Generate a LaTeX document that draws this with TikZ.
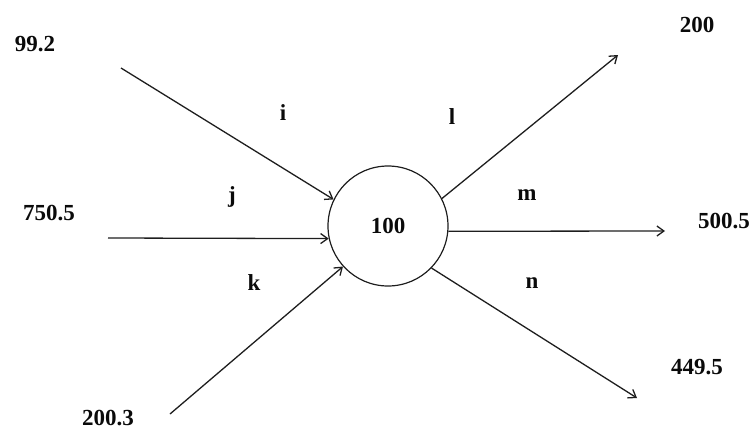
\documentclass[tikz,border=0pt]{standalone}
\usepackage{fontspec}
\setmainfont{Liberation Serif}
\usepackage{tikz}
\usetikzlibrary{arrows.meta}
\definecolor{flowline}{RGB}{30,30,30}
\definecolor{flowtext}{RGB}{10,10,10}
\tikzset{
  balance/.style={circle, draw=flowline, line width=1.2pt,
                  minimum size=120pt, inner sep=0pt,
                  font=\bfseries\fontsize{23}{25}\selectfont, text=flowtext},
  flowval/.style={inner sep=0pt, text=flowtext,
                  font=\bfseries\fontsize{23}{25}\selectfont},
  flowtag/.style={flowval},
  flow/.style={draw=flowline, line width=1.3pt,
               -{Straight Barb[length=7pt,width=10pt]}},
}
\begin{document}
\begin{tikzpicture}[x=1pt,y=-1pt]
\useasboundingbox (0,0) rectangle (756,431);
\node[balance] (c) at (388,226) {100};
% incoming streams: value, free end, anchor on the circle, stream tag
\foreach \nm/\val/\vpos/\spos/\ang/\tpos in {%
  i/99.2/{35,44}/{121,68}/154/{283,113},
  j/750.5/{49,213}/{108,238}/192/{232,197},
  k/200.3/{108,418}/{170,414}/222/{254,283}%
}{
  \node[flowval] (v\nm) at (\vpos) {\val};
  \coordinate (s\nm) at (\spos);
  \node[flowtag] (t\nm) at (\tpos) {\nm};
  \draw[flow] (s\nm) -- (c.\ang);
}
% outgoing streams
\foreach \nm/\val/\vpos/\epos/\ang/\tpos in {%
  l/200/{697,25}/{618,55}/27/{452,117},
  m/500.5/{724,221}/{665,231}/355/{527,195},
  n/449.5/{697,367}/{637,398}/316/{532,283}%
}{
  \node[flowval] (v\nm) at (\vpos) {\val};
  \coordinate (e\nm) at (\epos);
  \node[flowtag] (t\nm) at (\tpos) {\nm};
  \draw[flow] (c.\ang) -- (e\nm);
}
\end{tikzpicture}
\end{document}
